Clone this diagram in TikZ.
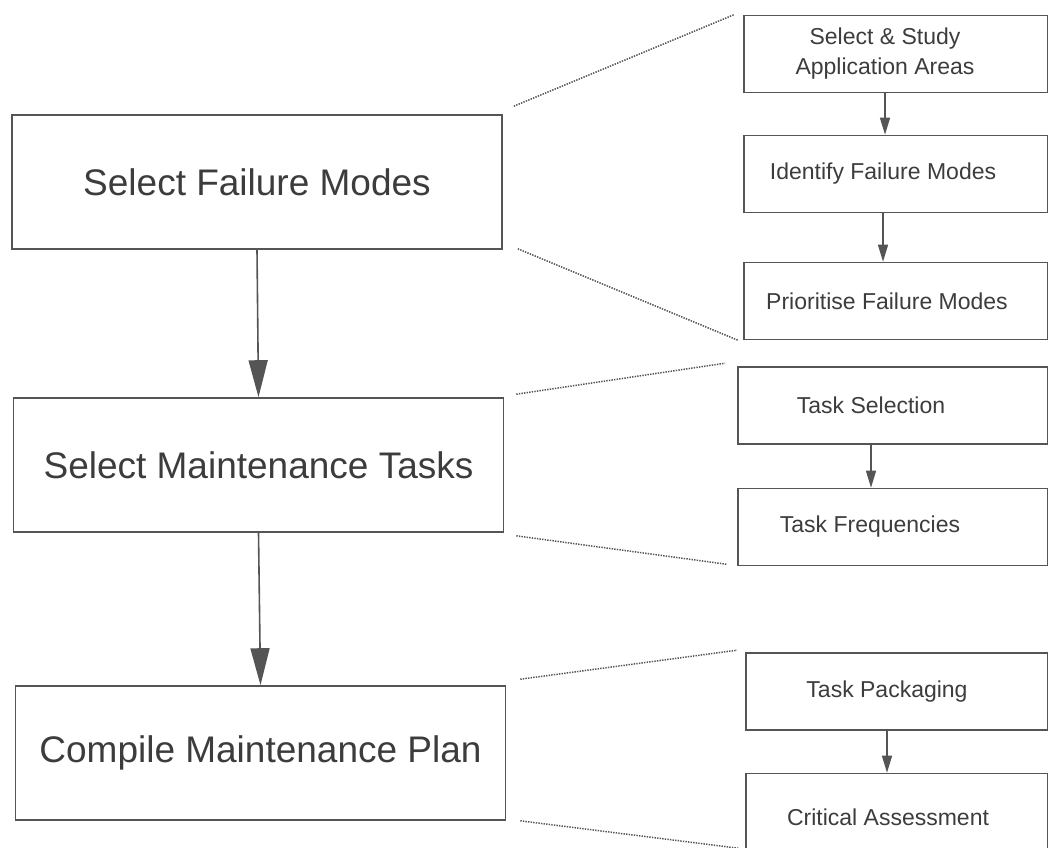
\documentclass[tikz,border=0pt]{standalone}
\usepackage{fontspec}
\setmainfont{Liberation Sans}
\usetikzlibrary{arrows.meta}
\definecolor{inkline}{HTML}{555555}
\definecolor{inktext}{HTML}{3C3C3C}
\definecolor{inkdots}{HTML}{555555}
\begin{document}
\begin{tikzpicture}[x=1pt,y=-1pt,
  stage/.style={draw=inkline, line width=1.6pt, minimum width=490pt,
    minimum height=134pt, inner sep=0pt, text=inktext,
    font=\fontsize{37}{44}\selectfont},
  substep/.style={draw=inkline, line width=1.6pt, minimum height=77pt,
    inner sep=0pt, anchor=west},
  subtext/.style={font=\fontsize{23}{30}\selectfont, text=inktext,
    align=center, inner sep=0pt},
  flow/.style={line width=1.6pt, color=inkline,
    -{Triangle[length=37pt,width=19pt]}},
  subflow/.style={line width=1.4pt, color=inkline,
    -{Triangle[length=17pt,width=10pt]}},
  zoomline/.style={draw=inkdots, line width=1.5pt,
    dash pattern=on 1.4pt off 1.2pt}]

\useasboundingbox (0,0) rectangle (1048,847);

% main stages
\node[stage] (b1) at (257,182)   {Select Failure Modes};
\node[stage] (b2) at (258.5,465) {Select Maintenance Tasks};
\node[stage] (b3) at (260.5,753) {Compile Maintenance Plan};

% sub-steps of each stage
\node[substep, minimum width=304pt] (r1) at (743,54)  {};
\node[substep, minimum width=304pt] (r2) at (743,174) {};
\node[substep, minimum width=304pt] (r3) at (743,301) {};
\node[substep, minimum width=310pt] (r4) at (737,405.5) {};
\node[substep, minimum width=310pt] (r5) at (737,527) {};
\node[substep, minimum width=302pt] (r6) at (745,691.5) {};
\node[substep, minimum width=302pt] (r7) at (745,812) {};

\node[subtext] (t1) at ([xshift=142pt]r1.west) {Select \& Study\\Application Areas};
\node[subtext] (t2) at ([xshift=140pt]r2.west) {Identify Failure Modes};
\node[subtext] (t3) at ([xshift=144pt]r3.west) {Prioritise Failure Modes};
\node[subtext] (t4) at ([xshift=134pt]r4.west) {Task Selection};
\node[subtext] (t5) at ([xshift=133pt]r5.west) {Task Frequencies};
\node[subtext] (t6) at ([xshift=142pt]r6.west) {Task Packaging};
\node[subtext] (t7) at ([xshift=143pt,yshift=-5pt]r7.west) {Critical Assessment};

% flow between stages
\draw[flow] (b1.south) -- (b2.north);
\draw[flow] (b2.south) -- (b3.north);

% flow between sub-steps
\draw[subflow] (t1 |- r1.south) -- (t1 |- r2.north);
\draw[subflow] (t2 |- r2.south) -- (t2 |- r3.north);
\draw[subflow] (t4 |- r4.south) -- (t4 |- r5.north);
\draw[subflow] (t6 |- r6.south) -- (t6 |- r7.north);

% dotted expansion lines
\draw[zoomline] ([shift={(11,-8)}]b1.north east) -- ([shift={(-9,0)}]r1.north west);
\draw[zoomline] ([shift={(15,-1)}]b1.south east) -- ([shift={(-5,0)}]r3.south west);
\draw[zoomline] ([shift={(12,-3)}]b2.north east) -- ([shift={(-12,-3)}]r4.north west);
\draw[zoomline] ([shift={(12,3)}]b2.south east) -- ([shift={(-10,-2)}]r5.south west);
\draw[zoomline] ([shift={(14,-6)}]b3.north east) -- ([shift={(-8,-2)}]r6.north west);
\draw[zoomline] ([shift={(14,0)}]b3.south east) -- ([shift={(-6,-3)}]r7.south west);
\end{tikzpicture}
\end{document}
